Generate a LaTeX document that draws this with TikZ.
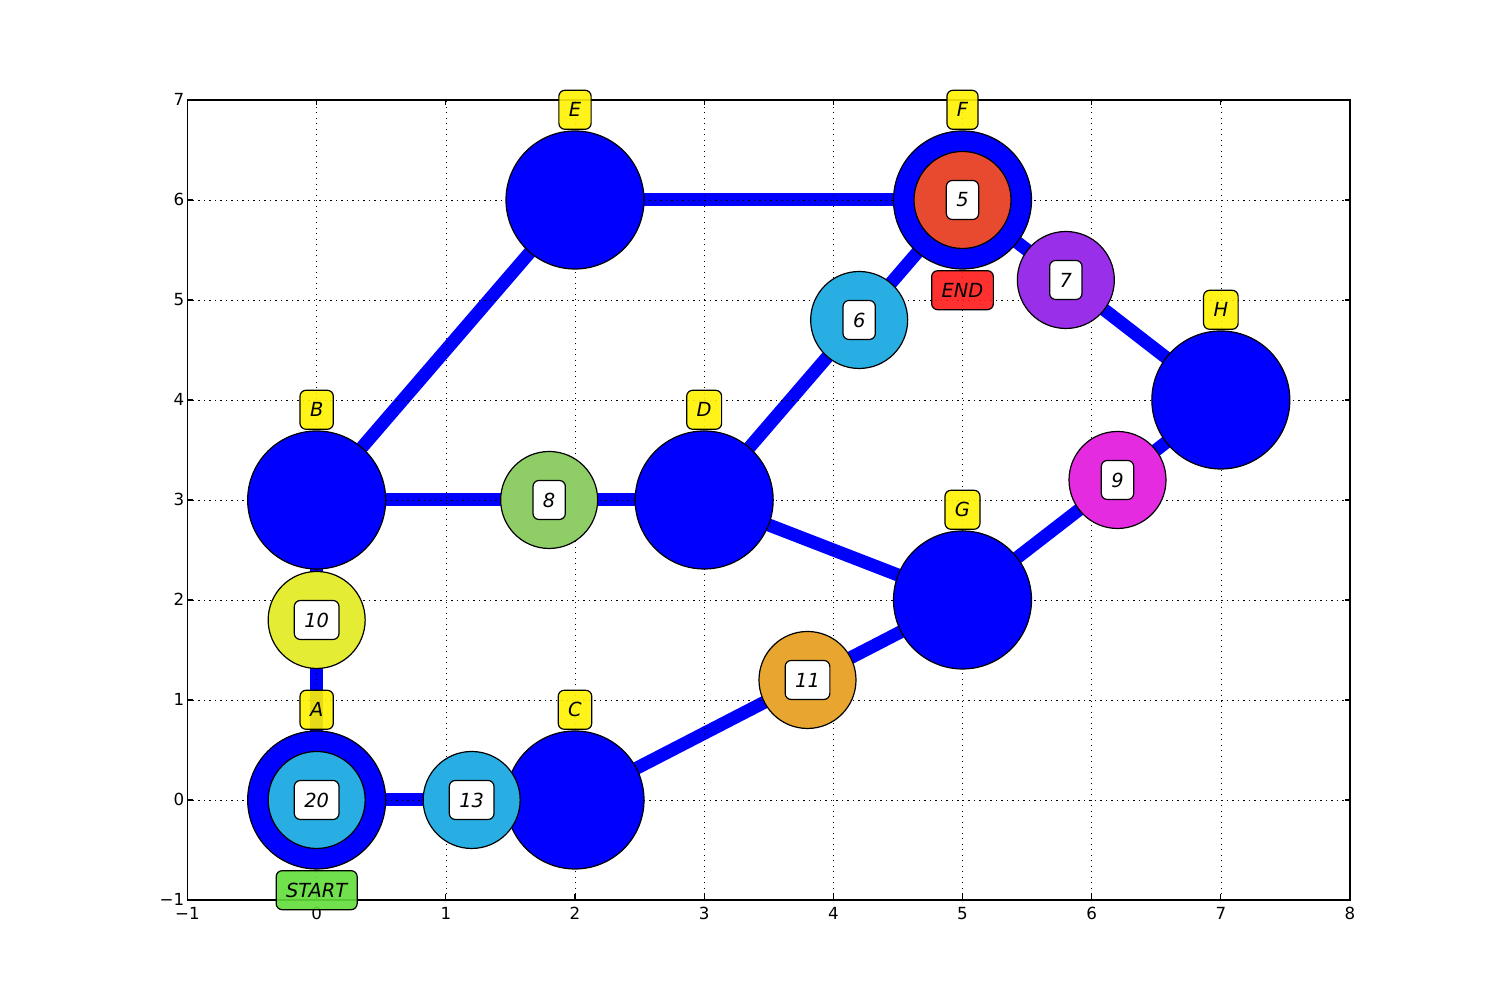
\documentclass[tikz,border=0pt]{standalone}
\usepackage{fontspec}
\setmainfont{DejaVu Sans}
\usepackage{xcolor}
\usetikzlibrary{positioning}

\definecolor{hubblue}{RGB}{0,0,255}
\definecolor{sky}{RGB}{40,174,227}
\definecolor{tangerine}{RGB}{232,165,48}
\definecolor{fuchsia}{RGB}{229,43,224}
\definecolor{violet}{RGB}{153,47,232}
\definecolor{ember}{RGB}{232,74,47}
\definecolor{leaf}{RGB}{143,205,102}
\definecolor{lime}{RGB}{228,236,52}
\definecolor{startgreen}{RGB}{97,222,57}
\definecolor{endred}{RGB}{255,26,26}

\begin{document}
\begin{tikzpicture}[
      x=129.17pt, y=100pt,
      hub/.style={circle, draw=black, line width=1.2pt, fill=hubblue,
      minimum size=138pt, inner sep=0pt},
      wt/.style={circle, draw=black, line width=1.2pt,
      minimum size=97pt, inner sep=0pt},
      tag/.style={rounded corners=6pt, draw=black, line width=1.2pt,
        inner xsep=10pt, inner ysep=0pt, minimum height=39pt,
        font=\fontsize{19.4}{23}\selectfont\itshape,
      fill opacity=0.9, text opacity=1},
      wtag/.style={tag, fill=white, fill opacity=1},
      ytag/.style={tag, fill=yellow},
      edge/.style={line width=13pt, draw=hubblue},
      gridline/.style={line width=0.6pt, draw=black, dash pattern=on 1.3pt off 4.2pt},
    ticklbl/.style={font=\fontsize{16.67}{20}\selectfont, inner sep=0pt}]

    \useasboundingbox (-2.4516,-2) rectangle (9.1613,8);

    % ---- vertex positions ----
    \coordinate (pA) at (0,0);
    \coordinate (pB) at (0,3);
    \coordinate (pC) at (2,0);
    \coordinate (pD) at (3,3);
    \coordinate (pE) at (2,6);
    \coordinate (pF) at (5,6);
    \coordinate (pG) at (5,2);
    \coordinate (pH) at (7,4);

    % ---- edges ----
    \foreach \u/\v in {A/B,A/C,B/D,B/E,E/F,D/F,D/G,C/G,G/H,F/H}
    \draw[edge] (p\u) -- (p\v);

    % ---- grid, frame and ticks ----
    \foreach \xx in {0,...,7}
    \draw[gridline] (\xx,-1) -- (\xx,7);
    \foreach \yy in {0,...,6}
    \draw[gridline] (-1,\yy) -- (8,\yy);
    \foreach \xx in {0,...,7} {
      \draw[line width=1.2pt] (\xx,-1) -- ++(0,5.5pt);
      \draw[line width=1.2pt] (\xx,7) -- ++(0,-5.5pt);
    }
    \foreach \yy in {0,...,6} {
      \draw[line width=1.2pt] (-1,\yy) -- ++(5.5pt,0);
      \draw[line width=1.2pt] (8,\yy) -- ++(-5.5pt,0);
    }
    \draw[line width=1.4pt] (-1,-1) rectangle (8,7);

    % ---- tick labels ----
    \foreach \xx/\tx in {-1/−1,0/0,1/1,2/2,3/3,4/4,5/5,6/6,7/7,8/8}
    \node[ticklbl, anchor=base] (xl\xx) at ([yshift=-20pt]\xx,-1) {\tx};
    \foreach \yy/\ty in {-1/−1,0/0,1/1,2/2,3/3,4/4,5/5,6/6,7/7}
    \node[ticklbl, anchor=base east] (yl\yy) at ([xshift=-3pt,yshift=-6pt]-1,\yy) {\ty};

    % ---- vertices ----
    \foreach \n in {A,B,C,D,E,F,G,H}
    \node[hub] (\n) at (p\n) {};
    \node[wt, fill=sky] (ringA) at (A) {};
    \node[wt, fill=ember] (ringF) at (F) {};

    % ---- weights on edges ----
    \node[wt, fill=lime]      (w10) at (0,1.8) {};
    \node[wt, fill=sky]       (w13) at (1.2,0) {};
    \node[wt, fill=leaf]      (w8)  at (1.8,3) {};
    \node[wt, fill=sky]       (w6)  at (4.2,4.8) {};
    \node[wt, fill=violet]    (w7)  at (5.8,5.2) {};
    \node[wt, fill=fuchsia]   (w9)  at (6.2,3.2) {};
    \node[wt, fill=tangerine] (w11) at (3.8,1.2) {};

    % ---- value boxes ----
    \node[wtag] (v20) at (ringA) {20};
    \node[wtag] (v5)  at (ringF) {5};
    \node[wtag] (v10) at (w10) {10};
    \node[wtag] (v13) at (w13) {13};
    \node[wtag] (v8)  at (w8)  {8};
    \node[wtag] (v6)  at (w6)  {6};
    \node[wtag] (v7)  at (w7)  {7};
    \node[wtag] (v9)  at (w9)  {9};
    \node[wtag] (v11) at (w11) {11};

    % ---- vertex names ----
    \foreach \n in {A,B,C,D,E,F,G,H}
    \node[ytag, above=0.5pt of \n] (n\n) {\n};
    \node[tag, fill=startgreen, below=0.5pt of A] (start) {START};
    \node[tag, fill=endred, below=0.5pt of F] (finish) {END};
  \end{tikzpicture}
\end{document}
